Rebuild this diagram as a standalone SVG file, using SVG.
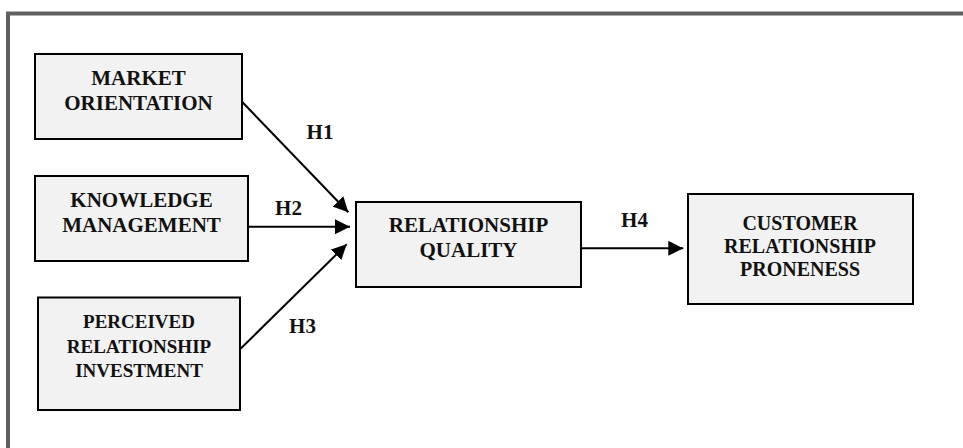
<svg xmlns="http://www.w3.org/2000/svg" width="963" height="448" viewBox="0 0 963 448">
  <defs>
    <marker id="ah" markerUnits="userSpaceOnUse" markerWidth="15" markerHeight="15" refX="15" refY="7.5" orient="auto">
      <path d="M0,0 L15,7.5 L0,15 Z" fill="#000"/>
    </marker>
    <style>
      .box { fill: #f2f2f2; stroke: #000; stroke-width: 2; }
      .t { font-family: "Liberation Serif", "Times New Roman", serif; font-weight: bold; fill: #111; text-anchor: middle; }
      .edge { stroke: #000; stroke-width: 2; fill: none; marker-end: url(#ah); }
      .frame { stroke: #606060; stroke-width: 4; fill: none; }
    </style>
  </defs>
  <rect width="963" height="448" fill="#fff"/>
  <path class="frame" d="M8,448 V13.5 H963"/>

  <g id="market-orientation">
    <rect class="box" x="35" y="54" width="207" height="85"/>
    <text class="t" font-size="21" x="138.5" y="85">MARKET</text>
    <text class="t" font-size="21" x="138.5" y="110">ORIENTATION</text>
  </g>

  <g id="knowledge-management">
    <rect class="box" x="35" y="176" width="213" height="85"/>
    <text class="t" font-size="21" x="141.5" y="206.7">KNOWLEDGE</text>
    <text class="t" font-size="21" x="141.5" y="231.7">MANAGEMENT</text>
  </g>

  <g id="perceived-relationship-investment">
    <rect class="box" x="38" y="297.5" width="202" height="112.5"/>
    <text class="t" font-size="19" x="139" y="327.7">PERCEIVED</text>
    <text class="t" font-size="19" x="139" y="352.5">RELATIONSHIP</text>
    <text class="t" font-size="19" x="139" y="376.7">INVESTMENT</text>
  </g>

  <g id="relationship-quality">
    <rect class="box" x="356" y="202" width="225" height="85"/>
    <text class="t" font-size="21" x="468.5" y="231.7">RELATIONSHIP</text>
    <text class="t" font-size="21" x="468.5" y="256.7">QUALITY</text>
  </g>

  <g id="customer-relationship-proneness">
    <rect class="box" x="688" y="194" width="225" height="110"/>
    <text class="t" font-size="20" x="800" y="230">CUSTOMER</text>
    <text class="t" font-size="20" x="800" y="253">RELATIONSHIP</text>
    <text class="t" font-size="20" x="800" y="276">PRONENESS</text>
  </g>

  <g id="connectors">
    <line class="edge" x1="242" y1="101.7" x2="348.3" y2="212.3"/>
    <line class="edge" x1="248" y1="226.7" x2="350" y2="226.7"/>
    <line class="edge" x1="240" y1="349.3" x2="346.7" y2="244.3"/>
    <line class="edge" x1="581" y1="248.3" x2="683.3" y2="248.3"/>
    <text class="t" font-size="21" x="320" y="139">H1</text>
    <text class="t" font-size="21" x="288.5" y="215">H2</text>
    <text class="t" font-size="21" x="302.5" y="333">H3</text>
    <text class="t" font-size="21" x="634.5" y="227.3">H4</text>
  </g>
</svg>
